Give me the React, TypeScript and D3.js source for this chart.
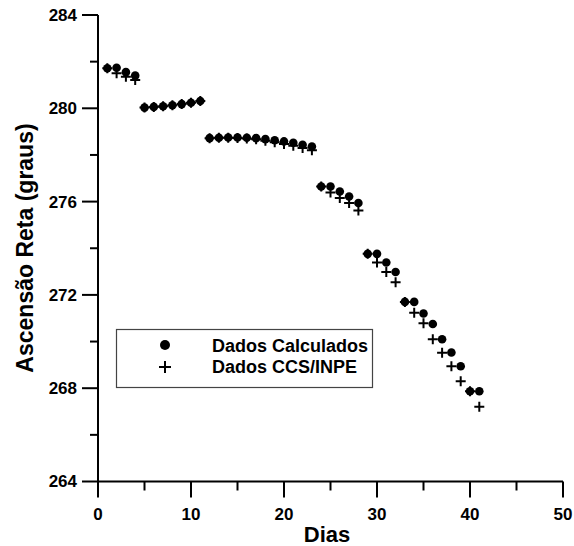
import React from 'react';
import * as d3 from 'd3';

// days 1..41
const days = d3.range(1, 42);

const calculados = [
	281.72, 281.74, 281.55, 281.4,
	280.03, 280.06, 280.09, 280.13, 280.18, 280.24, 280.31,
	278.72, 278.74, 278.75, 278.75, 278.74, 278.72, 278.68, 278.63, 278.58, 278.52, 278.44, 278.36,
	276.65, 276.65, 276.43, 276.22, 275.94,
	273.76, 273.76, 273.39, 272.98,
	271.7, 271.7, 271.2, 270.75, 270.1, 269.53, 268.94,
	267.87, 267.87,
];

const ccsInpe = [
	281.72, 281.5, 281.35, 281.21,
	280.03, 280.06, 280.09, 280.13, 280.18, 280.24, 280.31,
	278.72, 278.74, 278.74, 278.73, 278.71, 278.67, 278.61, 278.54, 278.47, 278.39, 278.3, 278.2,
	276.65, 276.39, 276.15, 275.94, 275.62,
	273.76, 273.39, 272.98, 272.54,
	271.7, 271.23, 270.78, 270.1, 269.52, 268.94, 268.3,
	267.87, 267.2,
];

const xMajor = [0, 10, 20, 30, 40, 50];
const xMinor = [5, 15, 25, 35, 45];
const yMajor = [264, 268, 272, 276, 280, 284];
const yMinor = [266, 270, 274, 278, 282];

const legendLabels = ['Dados Calculados', 'Dados CCS/INPE'];

const font = '"Liberation Sans", Arial, sans-serif';

export default function App() {
	const x = d3.scaleLinear().domain([0, 50]).range([98, 563]);
	const y = d3.scaleLinear().domain([264, 284]).range([481.5, 15]);
	const x0 = x(0);
	const y0 = y(264);

	return (
		<svg width={574} height={546} style={{ position: 'absolute', left: 0, top: 0, background: '#fff' }}
			fontFamily={font} fontWeight="bold">
			{/* axes */}
			<line x1={x0} x2={x0} y1={y(284)} y2={y0} stroke="#000" strokeWidth={2} />
			<line x1={x0} x2={x(50)} y1={y0} y2={y0} stroke="#000" strokeWidth={2} />
			{yMajor.map(v => (
				<g key={'ym' + v}>
					<line x1={x0 - 16} x2={x0} y1={y(v)} y2={y(v)} stroke="#000" strokeWidth={2} />
					<text x={x0 - 21} y={y(v)} dy="0.35em" textAnchor="end" fontSize={17}>{v}</text>
				</g>
			))}
			{yMinor.map(v => (
				<line key={'yn' + v} x1={x0 - 8} x2={x0} y1={y(v)} y2={y(v)} stroke="#000" strokeWidth={2} />
			))}
			{xMajor.map(v => (
				<g key={'xm' + v}>
					<line x1={x(v)} x2={x(v)} y1={y0} y2={y0 + 16} stroke="#000" strokeWidth={2} />
					<text x={x(v)} y={520} textAnchor="middle" fontSize={17}>{v}</text>
				</g>
			))}
			{xMinor.map(v => (
				<line key={'xn' + v} x1={x(v)} x2={x(v)} y1={y0} y2={y0 + 9} stroke="#000" strokeWidth={2} />
			))}

			{/* titles */}
			<text x={327} y={542} textAnchor="middle" fontSize={22}>Dias</text>
			<text transform={`translate(33,248) rotate(-90)`} textAnchor="middle" fontSize={23}>Ascensão Reta (graus)</text>

			{/* data */}
			{days.map((d, i) => (
				<circle key={'c' + d} cx={x(d)} cy={y(calculados[i])} r={4.3} fill="#000" />
			))}
			{days.map((d, i) => (
				<path key={'p' + d}
					d={`M${x(d) - 5},${y(ccsInpe[i])}h10M${x(d)},${y(ccsInpe[i]) - 5}v10`}
					stroke="#000" strokeWidth={2} fill="none" />
			))}

			{/* legend */}
			<rect x={116.5} y={329.5} width={256} height={58} fill="#fff" stroke="#444" strokeWidth={1.2} />
			<circle cx={165} cy={345} r={5} fill="#000" />
			<path d="M159,367h12M165,361v12" stroke="#000" strokeWidth={2} />
			{legendLabels.map((t, i) => (
				<text key={t} x={212} y={352 + i * 21} fontSize={18}>{t}</text>
			))}
		</svg>
	);
}
